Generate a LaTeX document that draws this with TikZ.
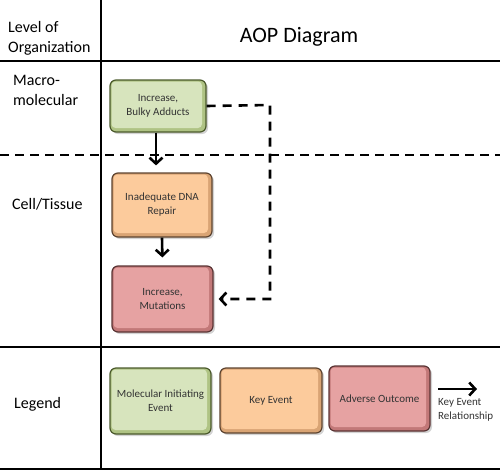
\documentclass[tikz,border=0pt]{standalone}
\usepackage{fontspec}
\setmainfont{Carlito}
\usetikzlibrary{arrows.meta,shadows}

\definecolor{mieFill}{HTML}{D7E4BD}
\definecolor{mieEdge}{HTML}{AFC384}
\definecolor{mieLine}{HTML}{4B5A2C}
\definecolor{keFill}{HTML}{FCCB9C}
\definecolor{keEdge}{HTML}{D9A474}
\definecolor{keLine}{HTML}{5E4430}
\definecolor{aoFill}{HTML}{E6A2A2}
\definecolor{aoEdge}{HTML}{C27878}
\definecolor{aoLine}{HTML}{5A3434}

\tikzset{
  eventbox/.style n args={3}{draw=#3, line width=1.2pt, fill=#2, rounded corners=6pt,
    align=center, inner sep=2pt, font=\fontsize{11}{14}\selectfont, text=black!80,
    drop shadow={opacity=0.35, shadow xshift=2pt, shadow yshift=-2pt},
    path picture={\fill[#1, rounded corners=4pt]
      ([xshift=1.5pt,yshift=-1.5pt]path picture bounding box.north west) rectangle
      ([xshift=-4pt,yshift=4pt]path picture bounding box.south east);}},
  mie/.style={eventbox={mieFill}{mieEdge}{mieLine}},
  ke/.style={eventbox={keFill}{keEdge}{keLine}},
  ao/.style={eventbox={aoFill}{aoEdge}{aoLine}},
  rule/.style={line width=2.8pt},
  ker/.style={line width=2.6pt, -{Straight Barb[length=6pt,width=13pt,line width=2.6pt]}},
  levellabel/.style={font=\fontsize{16}{20}\selectfont, align=left, inner sep=0pt},
}

\begin{document}
\begin{tikzpicture}[x=1pt,y=-1pt]
\useasboundingbox (0,0) rectangle (500,472);

% table rules
\draw[rule] (101,0) -- (101,469);
\draw[rule] (0,61) -- (500,61);
\draw[rule, dash pattern=on 9pt off 6pt] (0,155) -- (500,155);
\draw[rule] (0,347) -- (500,347);
\draw[rule] (0,469) -- (500,469);

% headings
\node[levellabel, anchor=north west] (hlevel) at (8,21) {Level of\\Organization};
\node[font=\fontsize{22}{26}\selectfont, anchor=base, inner sep=0pt] (haop) at (299,42) {AOP Diagram};
\node[levellabel, anchor=north west] (lmacro) at (13,75) {Macro-\\molecular};
\node[levellabel, anchor=base west] (lcell) at (12,209) {Cell/Tissue};
\node[levellabel, anchor=base west] (llegend) at (14,408) {Legend};

% events
\node[mie, minimum width=96pt, minimum height=52pt] (bulky) at (158,106) {Increase,\\Bulky Adducts};
\node[ke, minimum width=100pt, minimum height=64pt] (repair) at (162,205) {Inadequate DNA\\Repair};
\node[ao, minimum width=101pt, minimum height=66pt] (mutation) at (162.5,299) {Increase,\\Mutations};

% relationships
\draw[ker, shorten >=7pt] ([xshift=-2pt]bulky.south) -- ([xshift=-2pt]bulky.south |- repair.north);
\draw[ker, shorten >=8pt] (repair.south) -- (mutation.north);
\coordinate (bend) at (270,105);
\draw[ker, dash pattern=on 9pt off 7pt, shorten >=5pt] (bulky.east) -- (bend) |- (mutation.east);

% legend
\node[mie, minimum width=101pt, minimum height=66pt] (legmie) at (160.5,401) {Molecular Initiating\\Event};
\node[ke, minimum width=102pt, minimum height=65pt] (legke) at (271,400.5) {Key Event};
\node[ao, minimum width=101pt, minimum height=65pt] (legao) at (379.5,398.5) {Adverse Outcome};
\coordinate (kerfrom) at (438,389);
\coordinate (kerto) at (477,389);
\draw[ker] (kerfrom) -- (kerto);
\node[anchor=north west, align=left, inner sep=0pt, font=\fontsize{11}{14}\selectfont, text=black!80] (legker) at (438,398) {Key Event\\Relationship};
\end{tikzpicture}
\end{document}
